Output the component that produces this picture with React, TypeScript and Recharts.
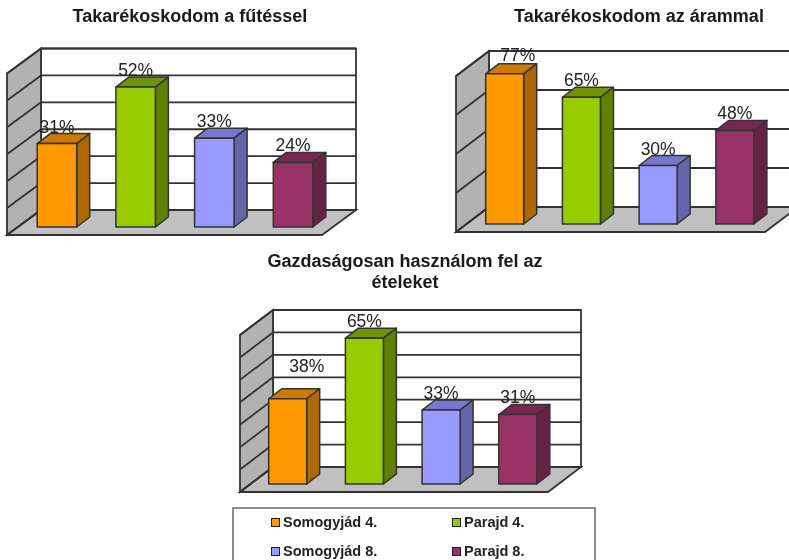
import React from "react";
import { BarChart, Bar, XAxis, YAxis, CartesianGrid, LabelList, Cell } from "recharts";

const WIDTH = 789;
const HEIGHT = 560;

const groups = ["Somogyjád 4.", "Parajd 4.", "Somogyjád 8.", "Parajd 8."];
const futesValues = [31, 52, 33, 24];
const aramValues = [77, 65, 30, 48];
const etelValues = [38, 65, 33, 31];

const futesTicks = [0, 10, 20, 30, 40, 50, 60];
const aramTicks = [0, 20, 40, 60, 80];
const etelTicks = [0, 10, 20, 30, 40, 50, 60, 70];

const faceColors = ["#FF9900", "#99CC00", "#9999FF", "#993366"];
const topColors = ["#CC7A00", "#6F9400", "#7777CC", "#772850"];
const sideColors = ["#AD6800", "#5F8000", "#6464A8", "#662244"];

const LINE = "#333";
const FONT = "'Liberation Sans', Arial, sans-serif";
const BAR_DEPTH_X = 13;
const BAR_DEPTH_Y = 10;

// all panels share the page's coordinates, each chart covers the whole canvas
const panels = [
  {
    values: futesValues,
    ticks: futesTicks,
    title: [{ text: "Takarékoskodom a fűtéssel", x: 190, y: 22 }],
    bandLeft: 17.2,
    bandRight: 332,
    baseY: 227,
    wallTop: 48.5,
    wallBottom: 210,
    floorLeft: 7,
    floorRight: 322,
    floorBottom: 235,
    depthX: 34,
    barSize: 39.5,
    nudges: {} as Record<number, [number, number]>,
  },
  {
    values: aramValues,
    ticks: aramTicks,
    title: [{ text: "Takarékoskodom az árammal", x: 639, y: 22 }],
    bandLeft: 466.7,
    bandRight: 773.6,
    baseY: 224,
    wallTop: 51,
    wallBottom: 207,
    floorLeft: 456,
    floorRight: 765,
    floorBottom: 232,
    depthX: 33,
    barSize: 38,
    nudges: { 0: [13, -2] } as Record<number, [number, number]>,
  },
  {
    values: etelValues,
    ticks: etelTicks,
    title: [
      { text: "Gazdaságosan használom fel az", x: 405, y: 267 },
      { text: "ételeket", x: 405, y: 288 },
    ],
    bandLeft: 249.7,
    bandRight: 556.5,
    baseY: 484,
    wallTop: 310,
    wallBottom: 467,
    floorLeft: 240,
    floorRight: 548,
    floorBottom: 492,
    depthX: 33,
    barSize: 38,
    nudges: { 0: [19, -16] } as Record<number, [number, number]>,
  },
];

type Panel = (typeof panels)[number];

const Box3D = (props: any) => {
  const { x, y, width, height, index } = props;
  const r = x + width;
  const b = y + height;
  const dx = BAR_DEPTH_X;
  const dy = BAR_DEPTH_Y;
  return (
    <g stroke={LINE} strokeWidth={1.5} strokeLinejoin="round">
      <polygon
        points={`${x},${y} ${x + dx},${y - dy} ${r + dx},${y - dy} ${r},${y}`}
        fill={topColors[index]}
      />
      <polygon
        points={`${r},${y} ${r + dx},${y - dy} ${r + dx},${b - dy} ${r},${b}`}
        fill={sideColors[index]}
      />
      <rect x={x} y={y} width={width} height={height} fill={faceColors[index]} />
    </g>
  );
};

const Backdrop = ({ p }: { p: Panel }) => {
  const backLeft = p.floorLeft + p.depthX;
  const backRight = p.floorRight + p.depthX;
  const wallDrop = p.floorBottom - p.wallBottom;
  return (
    <svg
      width={WIDTH}
      height={HEIGHT}
      style={{ position: "absolute", left: 0, top: 0 }}
    >
      <rect
        x={backLeft}
        y={p.wallTop}
        width={p.floorRight - p.floorLeft}
        height={p.wallBottom - p.wallTop}
        fill="#fff"
        stroke={LINE}
        strokeWidth={1.8}
      />
      <polygon
        points={`${backLeft},${p.wallTop} ${backLeft},${p.wallBottom} ${p.floorLeft},${p.floorBottom} ${p.floorLeft},${p.wallTop + wallDrop}`}
        fill="#B2B2B2"
        stroke={LINE}
        strokeWidth={1.8}
      />
      <polygon
        points={`${backLeft},${p.wallBottom} ${backRight},${p.wallBottom} ${p.floorRight},${p.floorBottom} ${p.floorLeft},${p.floorBottom}`}
        fill="#C0C0C0"
        stroke={LINE}
        strokeWidth={1.8}
      />
    </svg>
  );
};

const PanelChart = ({ p }: { p: Panel }) => {
  const data = groups.map((name, i) => ({ name, value: p.values[i] }));
  const lift = p.baseY - p.wallBottom;
  const backLeft = p.floorLeft + p.depthX;
  const backRight = p.floorRight + p.depthX;
  const drop = p.floorBottom - p.wallBottom;

  // the grid sits on the back wall, so its lines are lifted off the bars' plane
  const wallLine = (props: any) => {
    const y = props.y1 - lift;
    return (
      <g key={props.index} stroke={LINE} strokeWidth={1.8}>
        <line x1={backLeft} x2={backRight} y1={y} y2={y} />
        <line x1={backLeft} y1={y} x2={p.floorLeft} y2={y + drop} />
      </g>
    );
  };

  const valueLabel = (props: any) => {
    const { x, y, width, value, index } = props;
    const [nx, ny] = p.nudges[index] ?? [0, 0];
    return (
      <text
        x={x + width / 2 + nx}
        y={y - 11 + ny}
        textAnchor="middle"
        fontSize={17.5}
        fontFamily={FONT}
        fill="#222"
      >
        {`${value}%`}
      </text>
    );
  };

  return (
    <div style={{ position: "absolute", left: 0, top: 0 }}>
      <Backdrop p={p} />
      <div style={{ position: "absolute", left: 0, top: 0 }}>
        <BarChart
          width={WIDTH}
          height={HEIGHT}
          data={data}
          barCategoryGap={0}
          margin={{
            left: p.bandLeft,
            right: WIDTH - p.bandRight,
            top: p.wallTop + lift,
            bottom: HEIGHT - p.baseY,
          }}
        >
          <CartesianGrid vertical={false} horizontal={wallLine} />
          <XAxis dataKey="name" hide />
          <YAxis
            hide
            interval={0}
            domain={[p.ticks[0], p.ticks[p.ticks.length - 1]]}
            ticks={p.ticks}
          />
          <Bar
            dataKey="value"
            barSize={p.barSize}
            shape={Box3D}
            isAnimationActive={false}
          >
            {data.map((d, i) => (
              <Cell key={d.name} fill={faceColors[i]} />
            ))}
            <LabelList dataKey="value" content={valueLabel} />
          </Bar>
          {p.title.map((t) => (
            <text
              key={t.text}
              x={t.x}
              y={t.y}
              textAnchor="middle"
              fontSize={18}
              fontWeight="bold"
              fontFamily={FONT}
              fill="#1a1a1a"
            >
              {t.text}
            </text>
          ))}
        </BarChart>
      </div>
    </div>
  );
};

const legendCells = [
  { left: 271, top: 518, index: 0, textLeft: 283 },
  { left: 452, top: 518, index: 1, textLeft: 464 },
  { left: 271, top: 547, index: 2, textLeft: 283 },
  { left: 452, top: 547, index: 3, textLeft: 464 },
];

export default function App() {
  return (
    <div
      style={{
        position: "absolute",
        left: 0,
        top: 0,
        width: WIDTH,
        height: HEIGHT,
        overflow: "hidden",
        background: "#fff",
        filter: "blur(0.6px)",
      }}
    >
      {panels.map((p) => (
        <PanelChart key={p.title[0].text} p={p} />
      ))}
      <div
        style={{
          position: "absolute",
          left: 232,
          top: 507,
          width: 364,
          height: 80,
          border: "2px solid #8c8c8c",
          boxSizing: "border-box",
        }}
      />
      {legendCells.map((c) => (
        <React.Fragment key={c.index}>
          <div
            style={{
              position: "absolute",
              left: c.left,
              top: c.top,
              width: 7,
              height: 7,
              background: faceColors[c.index],
              border: "1px solid #222",
            }}
          />
          <div
            style={{
              position: "absolute",
              left: c.textLeft,
              top: c.top - 4,
              fontFamily: FONT,
              fontWeight: "bold",
              fontSize: 14.5,
              lineHeight: "16px",
              color: "#222",
              whiteSpace: "nowrap",
            }}
          >
            {groups[c.index]}
          </div>
        </React.Fragment>
      ))}
    </div>
  );
}
